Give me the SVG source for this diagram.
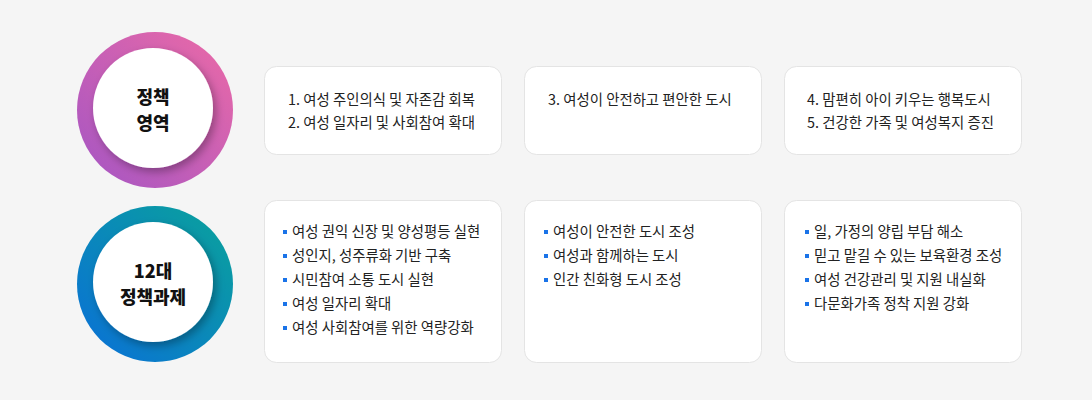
<svg xmlns="http://www.w3.org/2000/svg" width="1092" height="400" viewBox="0 0 1092 400">
<defs>
<linearGradient id="gPink" x1="1" y1="0" x2="0" y2="1">
<stop offset="0" stop-color="#ec6aa6"/>
<stop offset="1" stop-color="#a455c4"/>
</linearGradient>
<linearGradient id="gBlue" x1="1" y1="0" x2="0" y2="1">
<stop offset="0" stop-color="#0aa39a"/>
<stop offset="1" stop-color="#0a6fd8"/>
</linearGradient>
<filter id="sh" x="-30%" y="-30%" width="160%" height="160%">
<feDropShadow dx="3" dy="4" stdDeviation="4" flood-color="#000" flood-opacity="0.3"/>
</filter>
</defs>
<style>
.box{fill:#fff;stroke:#e4e4e4;stroke-width:1}
.t{font-family:"Noto Sans CJK KR","Noto Sans",sans-serif;font-size:14.4px;fill:#222}
.c{font-family:"Noto Sans CJK KR","Noto Sans",sans-serif;font-size:18px;font-weight:900;fill:#111;text-anchor:middle}
.b{fill:#1a73e8}
</style>
<rect width="1092" height="400" fill="#f5f5f5"/>
<g id="circle-policy-area">
<circle cx="155" cy="110" r="78" fill="url(#gPink)"/>
<circle cx="153" cy="108" r="60" fill="#fff" filter="url(#sh)"/>
<text class="c" x="153" y="104">정책</text>
<text class="c" x="153" y="130">영역</text>
</g>
<g id="circle-tasks">
<circle cx="155" cy="284" r="78" fill="url(#gBlue)"/>
<circle cx="153" cy="282" r="60" fill="#fff" filter="url(#sh)"/>
<text class="c" x="153" y="278">12대</text>
<text class="c" x="153" y="304">정책과제</text>
</g>
<g id="box-area-1">
<rect class="box" x="264.5" y="66.5" width="237" height="88" rx="12"/>
<text class="t" x="288" y="105">1. 여성 주인의식 및 자존감 회복</text>
<text class="t" x="288" y="128">2. 여성 일자리 및 사회참여 확대</text>
</g>
<g id="box-area-2">
<rect class="box" x="524.5" y="66.5" width="237" height="88" rx="12"/>
<text class="t" x="548" y="105">3. 여성이 안전하고 편안한 도시</text>
</g>
<g id="box-area-3">
<rect class="box" x="784.5" y="66.5" width="237" height="88" rx="12"/>
<text class="t" x="807" y="105">4. 맘편히 아이 키우는 행복도시</text>
<text class="t" x="807" y="128">5. 건강한 가족 및 여성복지 증진</text>
</g>
<g id="box-task-1">
<rect class="box" x="264.5" y="200.5" width="237" height="162" rx="12"/>
<rect class="b" x="283" y="230" width="4" height="4"/>
<text class="t" x="292" y="237">여성 권익 신장 및 양성평등 실현</text>
<rect class="b" x="283" y="254" width="4" height="4"/>
<text class="t" x="292" y="261">성인지, 성주류화 기반 구축</text>
<rect class="b" x="283" y="278" width="4" height="4"/>
<text class="t" x="292" y="285">시민참여 소통 도시 실현</text>
<rect class="b" x="283" y="302" width="4" height="4"/>
<text class="t" x="292" y="309">여성 일자리 확대</text>
<rect class="b" x="283" y="326" width="4" height="4"/>
<text class="t" x="292" y="333">여성 사회참여를 위한 역량강화</text>
</g>
<g id="box-task-2">
<rect class="box" x="524.5" y="200.5" width="237" height="162" rx="12"/>
<rect class="b" x="544" y="230" width="4" height="4"/>
<text class="t" x="553" y="237">여성이 안전한 도시 조성</text>
<rect class="b" x="544" y="254" width="4" height="4"/>
<text class="t" x="553" y="261">여성과 함께하는 도시</text>
<rect class="b" x="544" y="278" width="4" height="4"/>
<text class="t" x="553" y="285">인간 친화형 도시 조성</text>
</g>
<g id="box-task-3">
<rect class="box" x="784.5" y="200.5" width="237" height="162" rx="12"/>
<rect class="b" x="805" y="230" width="4" height="4"/>
<text class="t" x="814" y="237">일, 가정의 양립 부담 해소</text>
<rect class="b" x="805" y="254" width="4" height="4"/>
<text class="t" x="814" y="261">믿고 맡길 수 있는 보육환경 조성</text>
<rect class="b" x="805" y="278" width="4" height="4"/>
<text class="t" x="814" y="285">여성 건강관리 및 지원 내실화</text>
<rect class="b" x="805" y="302" width="4" height="4"/>
<text class="t" x="814" y="309">다문화가족 정착 지원 강화</text>
</g>
<g id="connectors"></g>
</svg>
